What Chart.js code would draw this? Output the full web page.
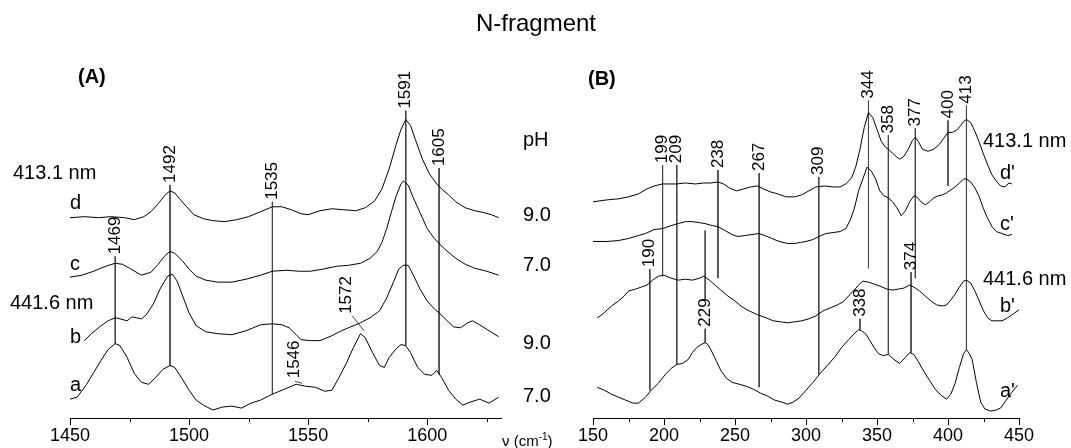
<!DOCTYPE html>
<html>
<head>
<meta charset="utf-8">
<script src="https://cdn.jsdelivr.net/npm/chart.js@4.4.1/dist/chart.umd.min.js"></script>
<style>
  body { margin: 0; background: #fff; }
  #wrap { position: relative; width: 1071px; height: 448px; font-family: "Liberation Sans", Arial, sans-serif; color: #000; }
  #wrap canvas { position: absolute; left: 0; top: 0; }
  .t { position: absolute; white-space: nowrap; line-height: 1; transform: translateY(-50%); font-size: 20px; }
  .b { font-weight: bold; font-size: 20px; }
  .ax { font-size: 15px; }
  .ax sup { font-size: 10px; }
</style>
</head>
<body>
<div id="wrap">
  <canvas id="chartA" width="1071" height="448"></canvas>
  <canvas id="chartB" width="1071" height="448"></canvas>

  <div class="t" style="left:536px;top:23px;transform:translate(-50%,-50%);font-size:24px;">N-fragment</div>
  <div class="t b" style="left:78px;top:76px;">(A)</div>
  <div class="t b" style="left:588px;top:78px;">(B)</div>

  <div class="t" style="left:13px;top:172px;">413.1 nm</div>
  <div class="t" style="left:70px;top:202px;">d</div>
  <div class="t" style="left:70px;top:263px;">c</div>
  <div class="t" style="left:10px;top:302px;">441.6 nm</div>
  <div class="t" style="left:70px;top:336px;">b</div>
  <div class="t" style="left:70px;top:384px;">a</div>

  <div class="t" style="left:523px;top:139px;">pH</div>
  <div class="t" style="left:523px;top:214px;">9.0</div>
  <div class="t" style="left:523px;top:264px;">7.0</div>
  <div class="t" style="left:523px;top:342px;">9.0</div>
  <div class="t" style="left:523px;top:395px;">7.0</div>

  <div class="t" style="left:983px;top:140px;">413.1 nm</div>
  <div class="t" style="left:1000px;top:172px;">d'</div>
  <div class="t" style="left:1000px;top:223px;">c'</div>
  <div class="t" style="left:983px;top:278px;">441.6 nm</div>
  <div class="t" style="left:1000px;top:305px;">b'</div>
  <div class="t" style="left:1000px;top:390px;">a'</div>

  <div class="t ax" style="left:502px;top:440px;">ν (cm<sup>-1</sup>)</div>
</div>

<script>
// ---- (A) 1450-1630 cm-1, intensities with vertical offsets as drawn ----
const specA_d = [[1450,202],[1456,203],[1462,202],[1467,203],[1473,202],[1477,200],[1481,203],[1484,208],[1487,216],[1490,225],[1492,229],[1494,227],[1496,221],[1499,213],[1502,205],[1506,201],[1510,199],[1515,198],[1520,200],[1525,203],[1530,208],[1535,213],[1539,213],[1543,210],[1547,206],[1550,205],[1555,209],[1560,211],[1565,210],[1570,209],[1574,212],[1578,219],[1581,231],[1584,251],[1587,276],[1589,291],[1591,301],[1593,295],[1595,281],[1598,261],[1601,246],[1604,236],[1606,231],[1609,225],[1612,218],[1616,212],[1620,209],[1624,207],[1627,205],[1630,202]];
const specA_c = [[1450,142],[1455,144],[1460,148],[1465,153],[1469,156],[1472,155],[1475,151],[1480,144],[1484,147],[1487,155],[1490,164],[1492,168],[1494,166],[1497,159],[1500,150],[1503,143],[1507,139],[1512,137],[1518,137],[1524,140],[1530,144],[1535,148],[1541,149],[1546,148],[1551,148],[1556,150],[1562,153],[1567,154],[1572,156],[1576,161],[1579,168],[1581,177],[1583,191],[1585,208],[1587,224],[1589,236],[1590,239],[1592,235],[1594,223],[1597,207],[1600,191],[1603,181],[1605,176],[1608,169],[1612,161],[1616,155],[1620,151],[1625,148],[1630,144]];
const specA_b = [[1456,78],[1459,85],[1463,93],[1466,98],[1469,101],[1471,100],[1474,98],[1476,102],[1478,101],[1480,100],[1482,104],[1485,115],[1488,131],[1491,143],[1493,145],[1495,138],[1497,125],[1500,106],[1503,93],[1507,87],[1512,85],[1518,84],[1524,88],[1530,94],[1535,95],[1539,94],[1542,91],[1545,84],[1547,79],[1551,78],[1555,78],[1560,83],[1564,88],[1568,92],[1572,96],[1576,101],[1580,108],[1583,121],[1586,138],[1588,150],[1590,154],[1592,154],[1594,145],[1597,130],[1600,118],[1603,110],[1605,106],[1608,99],[1611,92],[1614,91],[1617,96],[1619,98],[1622,94],[1626,88],[1630,82]];
const specA_a = [[1450,19],[1453,21],[1457,34],[1460,46],[1463,58],[1466,69],[1469,75],[1471,73],[1474,61],[1477,45],[1480,36],[1483,34],[1486,41],[1489,49],[1492,53],[1494,51],[1497,40],[1500,28],[1503,18],[1506,13],[1510,8],[1514,11],[1518,12],[1522,10],[1526,15],[1530,18],[1535,24],[1540,29],[1545,34],[1549,32],[1553,31],[1557,27],[1560,28],[1563,41],[1566,55],[1569,71],[1572,85],[1574,81],[1577,66],[1580,53],[1582,51],[1584,61],[1587,70],[1589,74],[1591,73],[1593,66],[1596,51],[1599,44],[1602,43],[1604,48],[1606,41],[1609,28],[1612,19],[1615,13],[1618,16],[1622,19],[1626,15],[1630,21]];

// peak labels: [position, text, height where text starts]
const labelsA = [[1469,'1469',164],[1492,'1492',236],[1535,'1535',219],[1591,'1591',311],[1605,'1605',253],[1566,'1572',104],[1544,'1546',39]];
// guide lines: [x1, h1, x2, h2]
const guidesA = [[1469,163,1469,75],[1492,235,1492,53],[1535,218,1535,24],[1591,310,1591,73],[1605,252,1605,44],[1568.5,103,1573.5,88],[1544.5,37,1547.5,35]];
const minorA = [1475,1525,1575,1625];

// ---- (B) 150-450 cm-1 ----
const specB_d = [[150,218],[160,220],[168,221],[175,223],[182,226],[188,231],[193,234],[199,236],[205,236],[209,236],[215,237],[222,236],[228,237],[233,237],[238,238],[242,236],[246,232],[251,229],[256,231],[261,233],[266,234],[270,231],[275,228],[280,226],[286,223],[292,223],[297,225],[302,229],[307,233],[313,234],[319,233],[324,233],[328,236],[332,242],[335,253],[338,271],[341,293],[344,308],[347,303],[350,291],[353,279],[356,273],[358,271],[361,267],[364,263],[366,261],[369,264],[372,271],[375,280],[377,283],[379,279],[382,271],[386,269],[390,271],[394,276],[397,282],[400,288],[403,288],[406,290],[409,295],[411,299],[413,301],[416,298],[419,289],[422,278],[425,266],[428,255],[431,245],[434,239],[437,234],[440,233],[443,237],[445,236]];
const specB_c = [[150,178],[160,178],[168,179],[175,181],[182,184],[187,186],[193,190],[199,191],[205,194],[210,196],[215,198],[220,198],[225,197],[229,196],[234,194],[238,193],[243,189],[248,185],[252,183],[257,184],[262,185],[267,186],[271,184],[276,181],[281,178],[287,176],[292,176],[296,177],[300,178],[305,180],[309,183],[314,186],[319,187],[324,188],[328,191],[331,199],[334,211],[337,229],[340,241],[343,253],[346,249],[349,241],[352,229],[355,224],[358,222],[361,218],[364,212],[367,204],[370,209],[373,218],[376,224],[378,223],[381,218],[384,215],[387,218],[390,222],[393,224],[396,225],[399,227],[402,230],[405,233],[408,237],[411,241],[413,241],[416,238],[419,232],[422,223],[425,211],[428,201],[431,193],[434,188],[438,186],[442,184],[445,185]];
const specB_b = [[153,101],[157,105],[160,109],[164,114],[168,118],[172,123],[175,128],[180,130],[184,132],[188,134],[192,139],[196,143],[200,144],[205,141],[210,139],[215,140],[220,139],[225,141],[228,143],[232,139],[236,134],[240,129],[245,123],[250,118],[255,112],[260,108],[266,104],[272,101],[277,98],[282,97],[287,96],[292,97],[297,98],[302,100],[307,103],[312,108],[317,111],[322,114],[326,117],[330,123],[334,129],[337,134],[340,138],[344,137],[348,135],[352,133],[357,130],[361,129],[365,130],[369,131],[373,134],[376,132],[380,128],[384,123],[388,118],[392,114],[396,113],[399,114],[402,119],[405,125],[408,132],[411,138],[413,139],[416,136],[419,128],[422,118],[425,108],[428,101],[431,98],[434,98],[438,98],[442,101],[446,105],[450,109]];
const specB_a = [[153,31],[158,28],[163,24],[168,21],[173,18],[178,15],[182,15],[187,21],[191,28],[196,35],[201,44],[205,50],[209,54],[213,55],[217,59],[220,66],[223,71],[226,74],[229,76],[231,74],[234,66],[237,57],[240,48],[244,40],[248,36],[253,34],[258,32],[263,29],[268,25],[273,22],[278,18],[283,16],[287,14],[291,16],[295,20],[300,28],[305,36],[310,45],[315,53],[320,61],[325,71],[330,79],[334,85],[337,89],[339,88],[342,85],[345,78],[348,71],[351,65],[354,63],[358,64],[362,59],[366,55],[370,61],[373,66],[376,64],[379,57],[383,47],[387,38],[391,29],[395,23],[399,19],[402,24],[405,35],[408,51],[411,65],[413,69],[415,65],[417,59],[420,36],[423,16],[426,9],[430,7],[434,8],[437,10],[441,18],[445,26],[449,33]];

const labelsB = [[190,'190',151],[199,'199',256],[209,'209',256],[238,'238',251],[229,'229',91],[267,'267',248],[309,'309',244],[344,'344',321],[338,'338',101],[358,'358',286],[377,'377',293],[374,'374',148],[400,'400',301],[413,'413',316]];
const guidesB = [[190,150,190,28],[199,255,199,143],[209,255,209,54],[238,250,238,141],[229,189,229,120],[229,90,229,76],[267,247,267,31],[309,243,309,44],[344,320,344,151],[338,100,338,89],[358,285,358,64],[377,292,377,141],[374,147,374,66],[400,300,400,234],[413,315,413,69]];
const minorB = [175,225,275,325,375,425];

const FONT = '"Liberation Sans", Arial, sans-serif';

// rotated peak labels and minor ticks, placed through the chart scales
const peakLabels = {
  id: 'peakLabels',
  afterDraw(chart, args, opts) {
    const ctx = chart.ctx;
    const x = chart.scales.x, y = chart.scales.y;
    ctx.save();
    ctx.fillStyle = '#000';
    ctx.font = '17px ' + FONT;
    ctx.textAlign = 'left';
    ctx.textBaseline = 'middle';
    opts.items.forEach(([v, txt, h]) => {
      ctx.save();
      ctx.translate(x.getPixelForValue(v), y.getPixelForValue(h));
      ctx.rotate(-Math.PI / 2);
      ctx.fillText(txt, 1, 0);
      ctx.restore();
    });
    ctx.strokeStyle = '#000';
    ctx.lineWidth = 1;
    const bottom = chart.chartArea.bottom;
    opts.minor.forEach(v => {
      const px = Math.round(x.getPixelForValue(v)) + 0.5;
      ctx.beginPath();
      ctx.moveTo(px, bottom);
      ctx.lineTo(px, bottom + 4);
      ctx.stroke();
    });
    ctx.restore();
  }
};

function traceSet(data) {
  return { data: data, borderColor: '#000', borderWidth: 1, pointRadius: 0, tension: 0, fill: false };
}
function guideSet(g) {
  return { data: [[g[0], g[1]], [g[2], g[3]]], borderColor: '#444', borderWidth: 1, pointRadius: 0, fill: false };
}

function makeChart(id, xMin, xMax, padL, padR, specs, guides, labels, minor) {
  const ctx = document.getElementById(id).getContext('2d');
  return new Chart(ctx, {
    type: 'line',
    data: {
      datasets: specs.map(traceSet).concat(guides.map(guideSet)),
    },
    options: {
      responsive: false,
      animation: false,
      events: [],
      layout: { padding: { left: padL, right: padR, top: 60, bottom: 1 } },
      plugins: {
        legend: { display: false },
        tooltip: { enabled: false },
        peakLabels: { items: labels, minor: minor },
      },
      scales: {
        x: {
          type: 'linear',
          min: xMin,
          max: xMax,
          border: { display: true, color: '#000', width: 1 },
          grid: { drawOnChartArea: false, tickLength: 7, tickColor: '#000', color: '#000' },
          ticks: {
            stepSize: 50,
            includeBounds: false,
            autoSkip: false,
            maxRotation: 0,
            padding: 2,
            color: '#000',
            font: { family: FONT, size: 18, lineHeight: 1 },
            callback: (v) => String(v),
          },
        },
        y: { display: false, min: 0, max: 361 },
      },
    },
    plugins: [peakLabels],
  });
}

makeChart('chartA', 1450, 1631, 70, 570, [specA_d, specA_c, specA_b, specA_a], guidesA, labelsA, minorA);
makeChart('chartB', 150, 450, 593, 52, [specB_d, specB_c, specB_b, specB_a], guidesB, labelsB, minorB);
</script>
</body>
</html>
